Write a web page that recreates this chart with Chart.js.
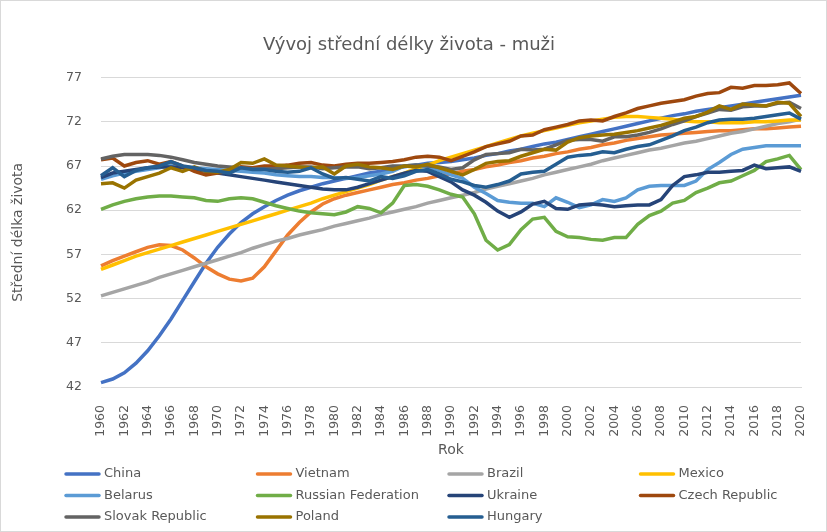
<!DOCTYPE html>
<html>
<head>
    <title>Vývoj střední délky života - muži</title>
    <script src="https://cdn.jsdelivr.net/npm/chart.js"></script>
    <style>
        body { margin: 0; background: #fff; }
        .wrap {
            width: 827px;
            height: 532px;
            border: 1px solid #d9d9d9;
            box-sizing: border-box;
            position: relative;
        }
    </style>
</head>
<body>
    <div class="wrap"><canvas id="lifeChart"></canvas></div>
    <script>
        const years = ['1960','1961','1962','1963','1964','1965','1966','1967','1968','1969',
            '1970','1971','1972','1973','1974','1975','1976','1977','1978','1979',
            '1980','1981','1982','1983','1984','1985','1986','1987','1988','1989',
            '1990','1991','1992','1993','1994','1995','1996','1997','1998','1999',
            '2000','2001','2002','2003','2004','2005','2006','2007','2008','2009',
            '2010','2011','2012','2013','2014','2015','2016','2017','2018','2019',
            '2020'];

        const china = [42.5, 42.9, 43.6, 44.7, 46.1, 47.8, 49.7, 51.8, 53.9, 56.0,
            57.8, 59.3, 60.6, 61.6, 62.4, 63.1, 63.7, 64.2, 64.6, 65.0,
            65.3, 65.6, 65.9, 66.2, 66.4, 66.7, 66.9, 67.1, 67.3, 67.4,
            67.5, 67.7, 67.9, 68.2, 68.4, 68.7, 68.9, 69.2, 69.5, 69.7,
            70.0, 70.3, 70.6, 70.9, 71.2, 71.5, 71.8, 72.1, 72.4, 72.7,
            72.9, 73.2, 73.4, 73.6, 73.8, 74.0, 74.2, 74.4, 74.6, 74.8,
            75.0];
        const vietnam = [55.7, 56.3, 56.8, 57.3, 57.8, 58.1, 58.0, 57.5, 56.6, 55.6,
            54.8, 54.2, 54.0, 54.3, 55.6, 57.4, 59.2, 60.6, 61.8, 62.7,
            63.3, 63.7, 64.0, 64.3, 64.6, 64.9, 65.1, 65.4, 65.6, 65.9,
            66.1, 66.4, 66.6, 66.9, 67.1, 67.4, 67.6, 67.9, 68.1, 68.4,
            68.6, 68.9, 69.1, 69.4, 69.6, 69.9, 70.1, 70.3, 70.5, 70.6,
            70.7, 70.8, 70.9, 71.0, 71.0, 71.1, 71.2, 71.2, 71.3, 71.4,
            71.5];
        const brazil = [52.3, 52.7, 53.1, 53.5, 53.9, 54.4, 54.8, 55.2, 55.6, 56.0,
            56.4, 56.8, 57.2, 57.7, 58.1, 58.5, 58.8, 59.2, 59.5, 59.8,
            60.2, 60.5, 60.8, 61.1, 61.5, 61.8, 62.1, 62.4, 62.8, 63.1,
            63.4, 63.7, 64.0, 64.4, 64.7, 65.0, 65.3, 65.6, 66.0, 66.3,
            66.6, 66.9, 67.2, 67.6, 67.9, 68.2, 68.5, 68.8, 69.0, 69.3,
            69.6, 69.8, 70.1, 70.4, 70.7, 70.9, 71.2, 71.5, 71.8, 72.0,
            72.3];
        const mexico = [55.3, 55.8, 56.3, 56.8, 57.2, 57.6, 58.0, 58.4, 58.8, 59.2,
            59.6, 60.0, 60.4, 60.8, 61.2, 61.6, 62.0, 62.4, 62.8, 63.3,
            63.7, 64.1, 64.5, 64.9, 65.4, 65.8, 66.2, 66.7, 67.1, 67.6,
            68.0, 68.4, 68.8, 69.2, 69.6, 70.0, 70.4, 70.7, 71.0, 71.3,
            71.6, 71.9, 72.1, 72.3, 72.5, 72.6, 72.6, 72.5, 72.4, 72.3,
            72.1, 72.0, 72.0, 71.9, 71.9, 71.9, 72.0, 72.0, 72.1, 72.2,
            72.2];
        const belarus = [65.5, 65.9, 66.2, 66.4, 66.6, 66.8, 67.1, 66.9, 66.8, 66.7,
            66.6, 66.5, 66.4, 66.3, 66.2, 66.0, 65.9, 65.8, 65.8, 65.7,
            65.7, 65.6, 65.7, 65.9, 66.1, 66.4, 67.0, 67.1, 66.9, 66.5,
            66.0, 65.6, 64.6, 63.9, 63.1, 62.9, 62.8, 62.8, 62.4, 63.4,
            62.9, 62.3, 62.6, 63.2, 63.0, 63.4, 64.3, 64.7, 64.8, 64.8,
            64.8, 65.3, 66.6, 67.4, 68.3, 68.9, 69.1, 69.3, 69.3, 69.3,
            69.3];
        const russia = [62.1, 62.6, 63.0, 63.3, 63.5, 63.6, 63.6, 63.5, 63.4, 63.1,
            63.0, 63.3, 63.4, 63.3, 62.9, 62.5, 62.2, 61.9, 61.7, 61.6,
            61.5, 61.8, 62.4, 62.2, 61.7, 62.8, 64.8, 64.9, 64.7, 64.3,
            63.8, 63.5, 61.6, 58.6, 57.5, 58.1, 59.8, 61.0, 61.2, 59.6,
            59.0, 58.9, 58.7, 58.6, 58.9, 58.9, 60.4, 61.4, 61.9, 62.8,
            63.1, 64.0, 64.5, 65.1, 65.3, 65.9, 66.5, 67.5, 67.8, 68.2,
            66.6];
        const ukraine = [65.7, 66.2, 66.4, 66.6, 66.8, 66.9, 66.9, 66.8, 66.6, 66.4,
            66.2, 66.0, 65.8, 65.6, 65.4, 65.2, 65.0, 64.8, 64.6, 64.4,
            64.3, 64.3, 64.6, 65.0, 65.4, 65.8, 66.2, 66.5, 66.4, 65.8,
            65.2, 64.3, 63.7, 62.9, 61.9, 61.2, 61.8, 62.7, 63.0, 62.2,
            62.1, 62.6, 62.7, 62.6, 62.4, 62.5, 62.6, 62.6, 63.2, 64.8,
            65.8, 66.0, 66.3, 66.3, 66.4, 66.5, 67.1, 66.7, 66.8, 66.9,
            66.4];
        const czech = [67.7, 67.9, 67.0, 67.4, 67.6, 67.2, 67.5, 67.0, 66.4, 66.0,
            66.2, 66.4, 66.9, 66.8, 67.0, 67.0, 67.1, 67.3, 67.4, 67.1,
            67.0, 67.2, 67.3, 67.3, 67.4, 67.5, 67.7, 68.0, 68.1, 68.0,
            67.6, 68.1, 68.6, 69.2, 69.5, 69.8, 70.4, 70.5, 71.1, 71.4,
            71.7, 72.1, 72.2, 72.1, 72.6, 73.0, 73.5, 73.8, 74.1, 74.3,
            74.5, 74.9, 75.2, 75.3, 75.9, 75.8, 76.1, 76.1, 76.2, 76.4,
            75.2];
        const slovakia = [67.8, 68.1, 68.3, 68.3, 68.3, 68.2, 68.0, 67.7, 67.4, 67.2,
            67.0, 66.9, 66.8, 66.7, 66.7, 66.7, 66.8, 66.9, 66.9, 66.7,
            66.8, 66.9, 66.9, 66.7, 66.8, 67.0, 67.0, 67.1, 67.0, 66.9,
            66.6, 66.8, 67.7, 68.3, 68.4, 68.5, 68.9, 68.8, 68.9, 69.4,
            69.9, 70.0, 70.0, 69.8, 70.3, 70.3, 70.5, 70.8, 71.2, 71.7,
            72.1, 72.6, 73.0, 73.4, 73.3, 73.7, 73.8, 73.8, 74.1, 74.2,
            73.5];
        const poland = [65.0, 65.1, 64.5, 65.4, 65.8, 66.2, 66.8, 66.4, 66.9, 66.4,
            66.3, 66.6, 67.4, 67.3, 67.8, 67.1, 67.0, 66.9, 66.8, 66.9,
            66.1, 67.0, 67.2, 66.9, 66.8, 66.6, 67.0, 66.9, 67.2, 66.8,
            66.4, 66.0, 66.6, 67.3, 67.5, 67.6, 68.1, 68.5, 68.9, 68.8,
            69.7, 70.2, 70.4, 70.5, 70.6, 70.8, 71.0, 71.3, 71.6, 72.0,
            72.4, 72.6, 73.1, 73.8, 73.4, 74.0, 73.9, 73.8, 74.2, 74.1,
            72.6];
        const hungary = [65.9, 66.8, 65.8, 66.5, 66.8, 67.0, 67.5, 67.0, 66.8, 66.5,
            66.4, 66.2, 66.8, 66.6, 66.6, 66.4, 66.3, 66.4, 66.8, 66.1,
            65.6, 65.7, 65.5, 65.3, 65.8, 65.6, 65.9, 66.4, 66.6, 66.1,
            65.5, 65.2, 64.8, 64.6, 64.9, 65.3, 66.1, 66.3, 66.4, 67.2,
            68.0, 68.2, 68.3, 68.6, 68.5, 68.9, 69.2, 69.4, 69.9, 70.4,
            71.0, 71.4, 71.9, 72.2, 72.3, 72.3, 72.4, 72.6, 72.8, 73.0,
            72.3];

        const seriesNames = ['China', 'Vietnam', 'Brazil', 'Mexico', 'Belarus', 'Russian Federation',
            'Ukraine', 'Czech Republic', 'Slovak Republic', 'Poland', 'Hungary'];
        const seriesData = [china, vietnam, brazil, mexico, belarus, russia,
            ukraine, czech, slovakia, poland, hungary];
        const seriesColors = ['#4472C4', '#ED7D31', '#A5A5A5', '#FFC000', '#5B9BD5', '#70AD47',
            '#264478', '#9E480E', '#636363', '#997300', '#255E91'];

        const textColor = '#595959';
        const fontFamily = "'DejaVu Sans', sans-serif";
        Chart.defaults.font.family = fontFamily;
        Chart.defaults.color = textColor;

        // legend laid out as a 4-column grid below the axis title, like the Excel original
        const gridLegend = {
            id: 'gridLegend',
            afterDraw(chart) {
                const ctx = chart.ctx;
                ctx.save();
                ctx.font = '13px ' + fontFamily;
                ctx.textBaseline = 'middle';
                ctx.lineCap = 'round';
                chart.data.datasets.forEach((ds, i) => {
                    const x = 63 + (i % 4) * 191.5;
                    const y = 473 + Math.floor(i / 4) * 21.5;
                    ctx.strokeStyle = ds.borderColor;
                    ctx.lineWidth = 3.5;
                    ctx.beginPath();
                    ctx.moveTo(x + 2, y);
                    ctx.lineTo(x + 35, y);
                    ctx.stroke();
                    ctx.fillStyle = textColor;
                    ctx.fillText(ds.label, x + 40, y);
                });
                ctx.restore();
            }
        };

        const datasets = seriesNames.map((name, i) => ({
            label: name,
            data: seriesData[i],
            borderColor: seriesColors[i],
            backgroundColor: seriesColors[i],
            borderWidth: 3.5,
            pointRadius: 0,
            tension: 0,
            fill: false,
            order: seriesNames.length - i // later series on top, as in Excel
        }));

        new Chart(document.getElementById('lifeChart'), {
            type: 'line',
            data: { labels: years, datasets: datasets },
            options: {
                responsive: true,
                maintainAspectRatio: false,
                animation: false,
                layout: { padding: { left: 0, right: 9, top: 0, bottom: 68 } },
                plugins: {
                    legend: { display: false },
                    tooltip: { enabled: false },
                    title: {
                        display: true,
                        text: 'Vývoj střední délky života - muži',
                        color: textColor,
                        font: { size: 18, weight: 'normal' },
                        padding: { top: 34, bottom: 21 }
                    }
                },
                scales: {
                    x: {
                        grid: { display: false },
                        border: { color: '#d9d9d9' },
                        ticks: {
                            autoSkip: false,
                            minRotation: 90,
                            maxRotation: 90,
                            padding: 10,
                            font: { size: 12.5 },
                            callback: function(value, index) {
                                return index % 2 === 0 ? this.getLabelForValue(value) : '';
                            }
                        },
                        title: {
                            display: true,
                            text: 'Rok',
                            color: textColor,
                            font: { size: 14 },
                            padding: { top: 4, bottom: 4 }
                        },
                        afterFit: function(scale) { scale.height = 76; }
                    },
                    y: {
                        min: 42,
                        max: 77,
                        grid: { color: '#d9d9d9', drawTicks: false },
                        border: { display: false },
                        ticks: { stepSize: 5, padding: 19, font: { size: 12.5 } },
                        title: {
                            display: true,
                            text: 'Střední délka života',
                            color: textColor,
                            font: { size: 14 },
                            padding: { top: 9, bottom: 0 }
                        },
                        afterFit: function(scale) { scale.width = 100; }
                    }
                }
            },
            plugins: [gridLegend]
        });
    </script>
</body>
</html>
